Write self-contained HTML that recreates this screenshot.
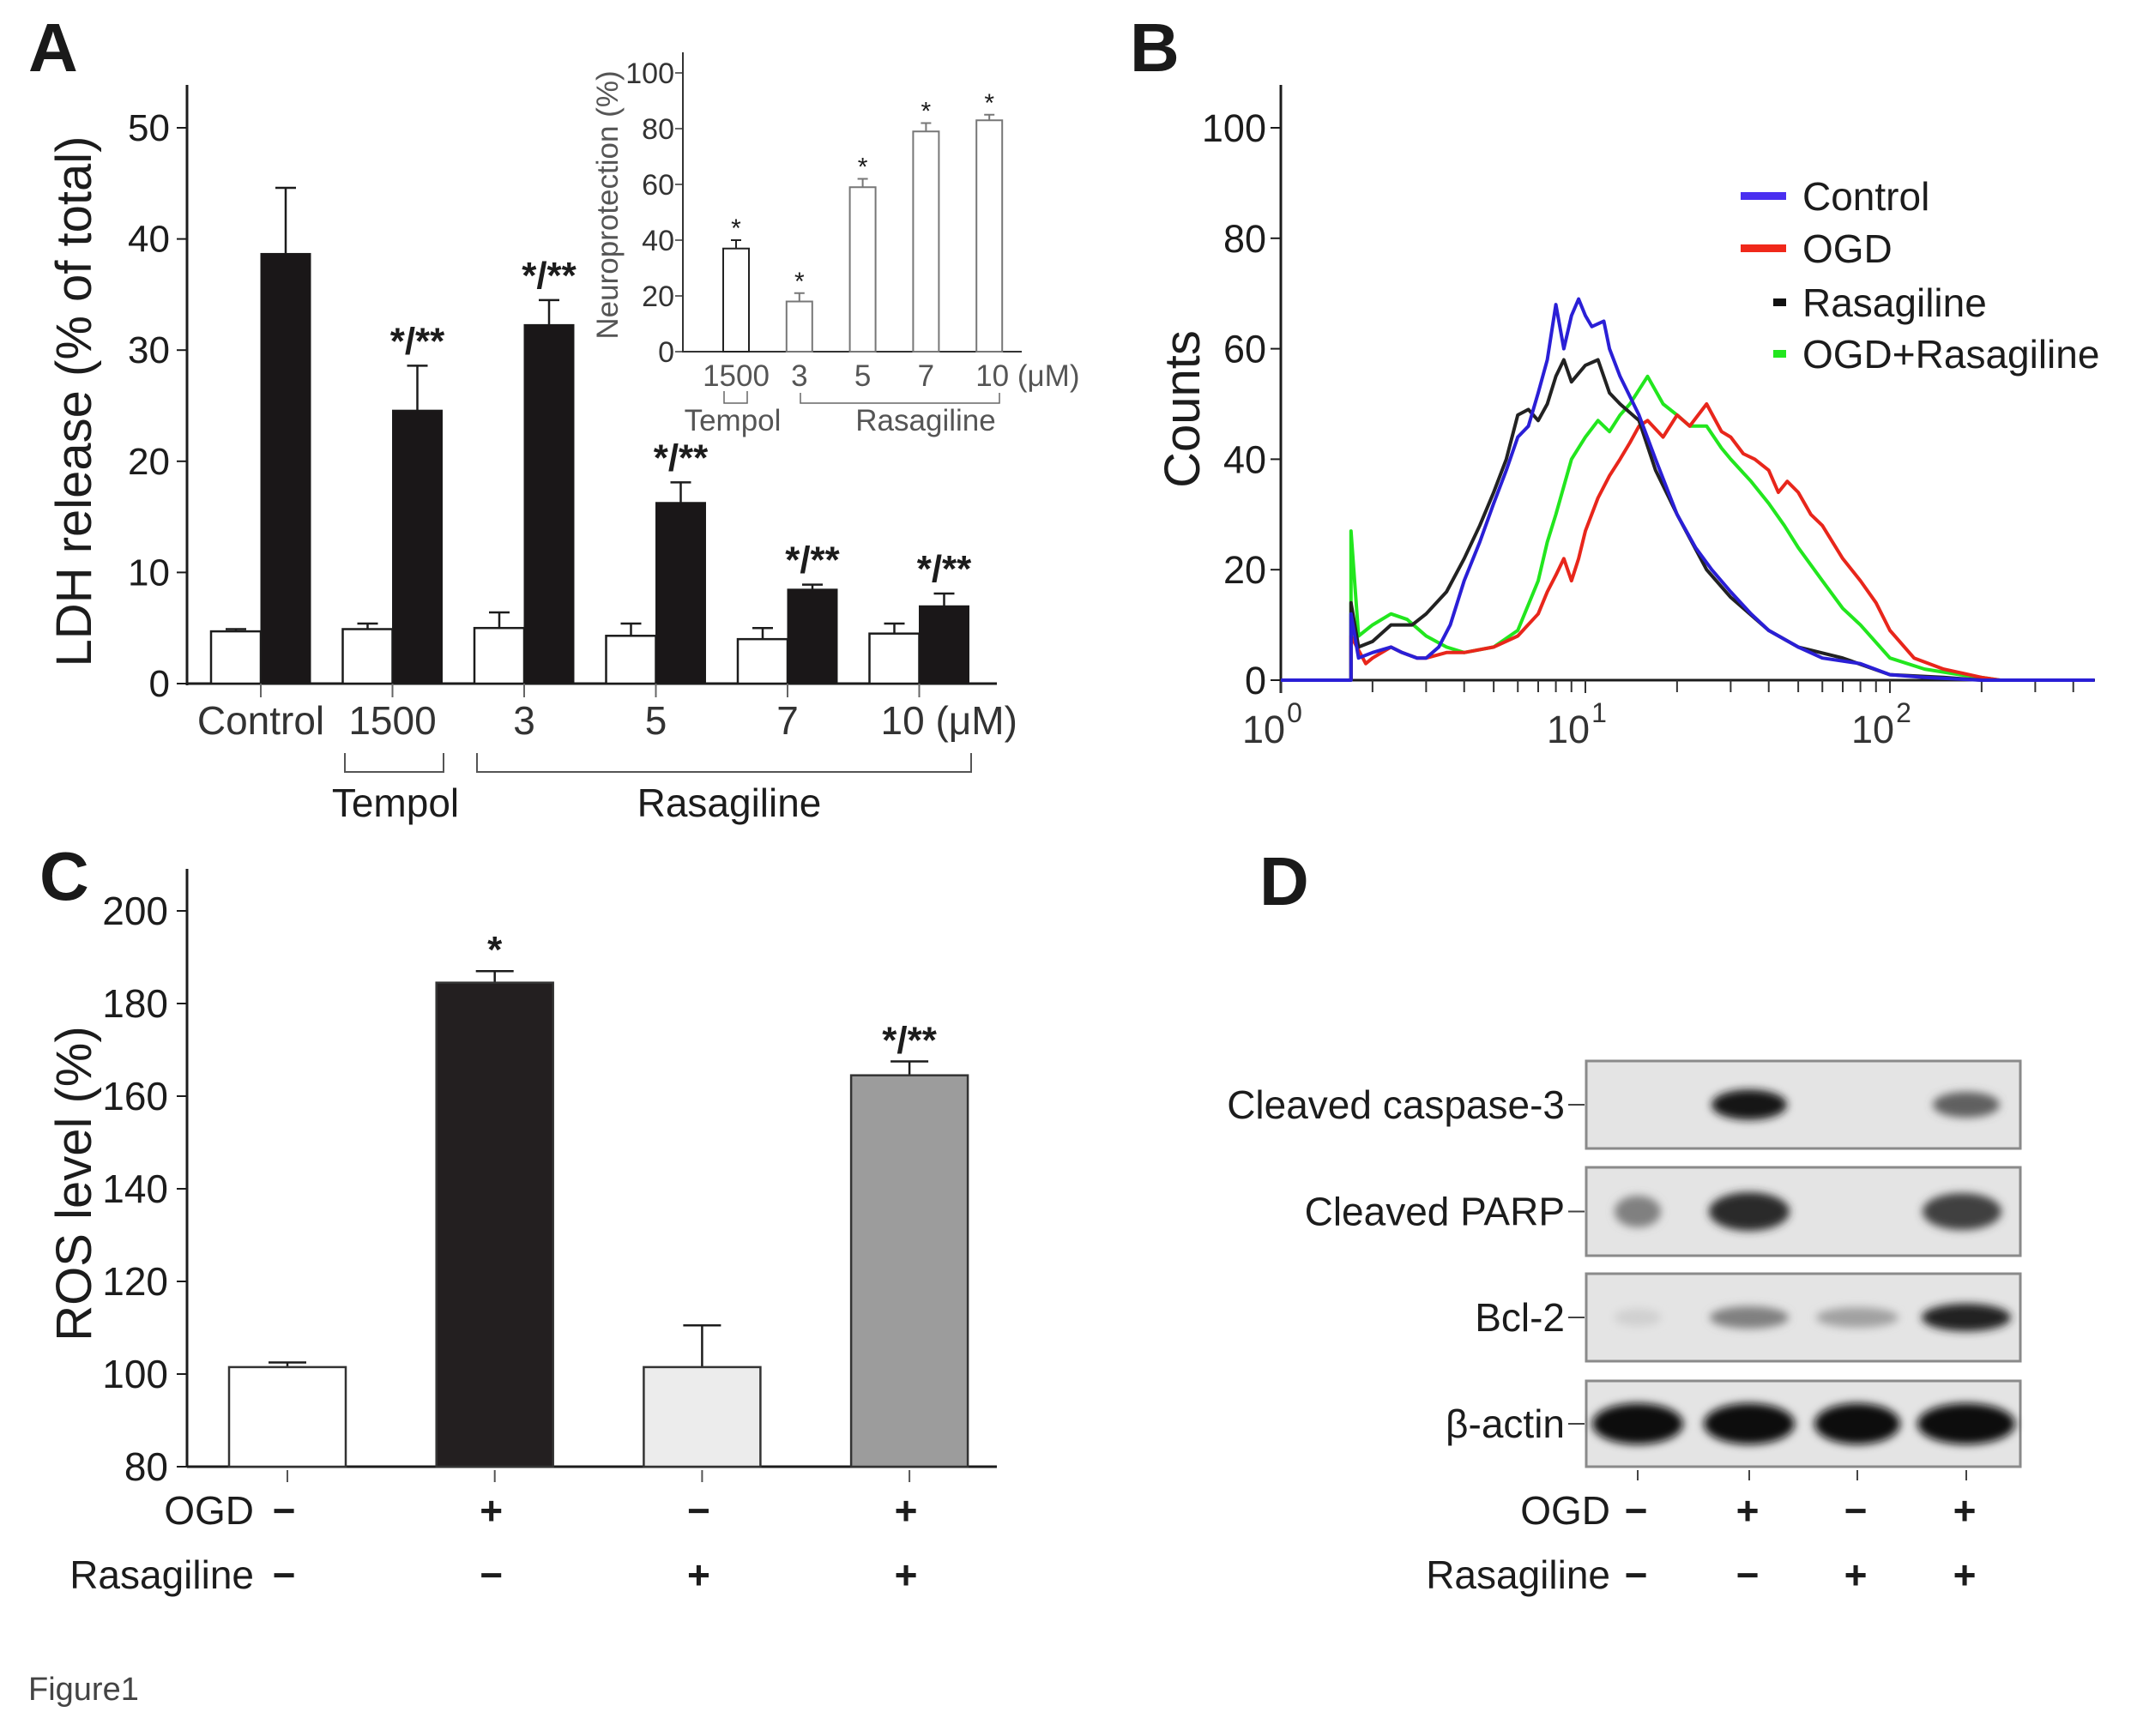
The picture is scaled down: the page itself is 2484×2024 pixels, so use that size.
<!DOCTYPE html>
<html><head><meta charset="utf-8"><title>Figure 1</title>
<style>
html,body{margin:0;padding:0;background:#fff;}
svg{display:block;font-family:"Liberation Sans",Arial,sans-serif;}
</style></head>
<body>
<svg id="fig" xmlns="http://www.w3.org/2000/svg" width="2484" height="2024" viewBox="0 0 2484 2024">
<defs>
<filter id="blur" x="-30%" y="-60%" width="160%" height="220%"><feGaussianBlur stdDeviation="5"/></filter>
</defs>
<text x="33" y="83" font-size="80" font-weight="bold" fill="#1a1a1a">A</text>
<text x="1317" y="83" font-size="80" font-weight="bold" fill="#1a1a1a">B</text>
<text x="46" y="1049" font-size="80" font-weight="bold" fill="#1a1a1a">C</text>
<text x="1468" y="1055" font-size="80" font-weight="bold" fill="#1a1a1a">D</text>
<text x="33" y="1982" font-size="38" fill="#444">Figure1</text>
<g id="gA"></g>
<g id="gI"></g>
<g id="gB"></g>
<g id="gC"></g>
<g id="gD"></g>
</svg>
<script>
// ---------- Panel A data ----------
const aCategories = ["Control","1500","3","5","7","10 (\u03bcM)"];
const aWhite = [4.7,4.9,5.0,4.3,4.0,4.5];
const aWhiteErr = [0.2,0.5,1.4,1.1,1.0,0.9];
const aBlack = [38.7,24.6,32.3,16.3,8.5,7.0];
const aBlackErr = [5.9,4.0,2.2,1.8,0.4,1.1];
const aStars = ["","*/**","*/**","*/**","*/**","*/**"];
const aTicks = [0,10,20,30,40,50];
// ---------- Inset data ----------
const iCategories = ["1500","3","5","7","10 (\u03bcM)"];
const iValues = [37,18,59,79,83];
const iErr = [3,3,3,3,2];
const iTicks = [0,20,40,60,80,100];
// ---------- Panel B data: [fluorescence, counts] ----------
const bControl = [[1,0],[1.7,0],[1.7,12],[1.8,4],[2,5],[2.3,6],[2.5,5],[2.8,4],[3,4],[3.3,6],[3.6,10],[4,18],[4.5,25],[5,32],[5.5,38],[6,44],[6.5,46],[7,52],[7.5,58],[8,68],[8.5,60],[9,66],[9.5,69],[10,66],[10.5,64],[11.5,65],[12,60],[13,55],[15,48],[17,40],[20,30],[23,24],[26,20],[30,16],[35,12],[40,9],[50,6],[60,4],[80,3],[100,1],[130,0.5],[200,0],[470,0]];
const bOGD = [[1.7,0],[1.7,8],[1.9,3],[2,4],[2.3,6],[2.5,5],[2.8,4],[3,4],[3.5,5],[4,5],[5,6],[6,8],[7,12],[7.5,16],[8,19],[8.5,22],[9,18],[9.5,22],[10,27],[11,33],[12,37],[13,40],[14,43],[15,46],[16,47],[18,44],[20,48],[22,46],[25,50],[28,45],[30,44],[33,41],[36,40],[40,38],[43,34],[46,36],[50,34],[55,30],[60,28],[70,22],[80,18],[90,14],[100,9],[120,4],[150,2],[200,0.5],[230,0]];
const bRasagiline = [[1.7,0],[1.7,14],[1.8,6],[2,7],[2.3,10],[2.7,10],[3,12],[3.5,16],[4,22],[4.5,28],[5,34],[5.5,40],[6,48],[6.5,49],[7,47],[7.5,50],[8,55],[8.5,58],[9,54],[10,57],[11,58],[12,52],[13,50],[15,47],[17,38],[20,30],[25,20],[30,15],[40,9],[50,6],[70,4],[100,1],[150,0.5],[200,0]];
const bOGDRas = [[1.7,0],[1.7,27],[1.8,8],[2,10],[2.3,12],[2.6,11],[3,8],[3.5,6],[4,5],[5,6],[6,9],[7,18],[7.5,25],[8,30],[9,40],[10,44],[11,47],[12,45],[13,48],[14,50],[16,55],[18,50],[20,48],[22,46],[25,46],[28,42],[30,40],[35,36],[40,32],[45,28],[50,24],[60,18],[70,13],[80,10],[100,4],[130,2],[170,1],[200,0.5],[230,0]];
const bTicks = [0,20,40,60,80,100];
// ---------- Panel C data ----------
const cValues = [101.5,184.5,101.5,164.5];
const cErr = [1,2.5,9,3];
const cStars = ["","*","","*/**"];
const cTicks = [80,100,120,140,160,180,200];
const cOGD = ["\u2212","+","\u2212","+"];
const cRas = ["\u2212","\u2212","+","+"];
// ---------- Panel D data ----------
const dRows = ["Cleaved caspase-3","Cleaved PARP","Bcl-2","\u03b2-actin"];
const dIntensity = [[0,0.95,0,0.6],[0.45,0.85,0,0.75],[0.08,0.45,0.3,0.9],[1,1,1,1]];
const dOGD = ["\u2212","+","\u2212","+"];
const dRas = ["\u2212","\u2212","+","+"];

const NS="http://www.w3.org/2000/svg";
function mk(parent,tag,attrs,text){const e=document.createElementNS(NS,tag);for(const k in attrs)e.setAttribute(k,attrs[k]);if(text!==undefined)e.textContent=text;parent.appendChild(e);return e;}
const INK="#1c1c1c";

// ===== Panel A =====
(function(){
const g=document.getElementById('gA');
const x0=218,x1=1162,y0=797,yTop=99;
const ys=v=>y0-v*12.96;
const gx=i=>304+i*153.5;
const bw=58;
mk(g,'line',{x1:x0,y1:yTop,x2:x0,y2:y0+2,stroke:INK,'stroke-width':3});
mk(g,'line',{x1:x0,y1:y0,x2:x1,y2:y0,stroke:INK,'stroke-width':3});
aTicks.forEach(t=>{
 mk(g,'line',{x1:x0-12,y1:ys(t),x2:x0,y2:ys(t),stroke:INK,'stroke-width':2});
 const e=mk(g,'text',{x:x0-20,y:ys(t)+15,'font-size':44,'text-anchor':'end',fill:INK},String(t));
 
 
});
aCategories.forEach((c,i)=>{
 const cx=gx(i);
 // error bars
 const wt=aWhite[i]+aWhiteErr[i], bt=aBlack[i]+aBlackErr[i];
 mk(g,'line',{x1:cx-bw/2,y1:ys(aWhite[i]),x2:cx-bw/2,y2:ys(wt),stroke:INK,'stroke-width':2.5});
 mk(g,'line',{x1:cx-bw/2-12,y1:ys(wt),x2:cx-bw/2+12,y2:ys(wt),stroke:INK,'stroke-width':2.5});
 mk(g,'line',{x1:cx+bw/2,y1:ys(aBlack[i]),x2:cx+bw/2,y2:ys(bt),stroke:INK,'stroke-width':2.5});
 mk(g,'line',{x1:cx+bw/2-12,y1:ys(bt),x2:cx+bw/2+12,y2:ys(bt),stroke:INK,'stroke-width':2.5});
 const w=mk(g,'rect',{x:cx-bw,y:ys(aWhite[i]),width:bw,height:y0-ys(aWhite[i]),fill:'#fff',stroke:INK,'stroke-width':2.5});
 
 
 const b=mk(g,'rect',{x:cx,y:ys(aBlack[i]),width:bw,height:y0-ys(aBlack[i]),fill:'#1a1718',stroke:INK,'stroke-width':1});
 
 
 mk(g,'line',{x1:cx,y1:y0,x2:cx,y2:y0+16,stroke:'#666','stroke-width':2});
 if(aStars[i]){const s=mk(g,'text',{x:cx+bw/2,y:ys(bt)-14,'font-size':44,'font-weight':'bold','text-anchor':'middle',fill:INK},aStars[i]);
  
  }
 const anchor = i===5?'start':'middle';
 const tx = i===5? cx-45 : cx;
 const l=mk(g,'text',{x:tx,y:856,'font-size':46,'text-anchor':anchor,fill:'#333'},c);
 
 
});
mk(g,'path',{d:'M402 878 V900 H517 V878',fill:'none',stroke:'#555','stroke-width':2});
mk(g,'path',{d:'M556 878 V900 H1132 V878',fill:'none',stroke:'#555','stroke-width':2});
let t=mk(g,'text',{x:461,y:952,'font-size':46,'text-anchor':'middle',fill:INK},'Tempol');

t=mk(g,'text',{x:850,y:952,'font-size':46,'text-anchor':'middle',fill:INK},'Rasagiline');

t=mk(g,'text',{x:0,y:0,'font-size':58,'text-anchor':'middle',fill:INK,transform:'translate(106,468) rotate(-90)'},'LDH release (% of total)');

})();

// ===== Inset =====
(function(){
const g=document.getElementById('gI');
const x0=796,x1=1191,y0=410,yTop=61;
const ys=v=>y0-v*3.25;
const cx=i=>858+i*73.8;
const bw=30;
mk(g,'line',{x1:x0,y1:yTop,x2:x0,y2:y0+1,stroke:'#333','stroke-width':2});
mk(g,'line',{x1:x0,y1:y0,x2:x1,y2:y0,stroke:'#333','stroke-width':2});
iTicks.forEach(tk=>{
 mk(g,'line',{x1:x0-9,y1:ys(tk),x2:x0,y2:ys(tk),stroke:'#333','stroke-width':1.5});
 const e=mk(g,'text',{x:x0-10,y:ys(tk)+12,'font-size':34,'text-anchor':'end',fill:'#333'},String(tk));
 
 
});
iCategories.forEach((c,i)=>{
 const x=cx(i), top=iValues[i]+iErr[i];
 const col = i===0?'#222':'#777';
 mk(g,'line',{x1:x,y1:ys(iValues[i]),x2:x,y2:ys(top),stroke:col,'stroke-width':2});
 mk(g,'line',{x1:x-6,y1:ys(top),x2:x+6,y2:ys(top),stroke:col,'stroke-width':2});
 const r=mk(g,'rect',{x:x-bw/2,y:ys(iValues[i]),width:bw,height:y0-ys(iValues[i]),fill:'#fff',stroke:col,'stroke-width':2});
 
 
 const s=mk(g,'text',{x:x,y:ys(top)-4,'font-size':30,'text-anchor':'middle',fill:INK},'*');
 
 
 const l=mk(g,'text',{x:i===4?x-16:x,y:450,'font-size':35,'text-anchor':i===4?'start':'middle',fill:'#555'},c);
 
 
});
mk(g,'path',{d:'M844 456 V470 H871 V456',fill:'none',stroke:'#666','stroke-width':1.5});
mk(g,'path',{d:'M933 458 V470 H1165 V458',fill:'none',stroke:'#666','stroke-width':1.5});
let t=mk(g,'text',{x:854,y:502,'font-size':35,'text-anchor':'middle',fill:'#555'},'Tempol');

t=mk(g,'text',{x:1079,y:502,'font-size':35,'text-anchor':'middle',fill:'#555'},'Rasagiline');

t=mk(g,'text',{x:0,y:0,'font-size':35,'text-anchor':'middle',fill:'#555',transform:'translate(720,239) rotate(-90)'},'Neuroprotection (%)');

})();

// ===== Panel B =====
(function(){
const g=document.getElementById('gB');
const x0=1493,x1=2442,y0=793,yTop=99;
const ys=v=>y0-v*6.44;
const xs=v=>x0+Math.log10(v)*355;
mk(g,'line',{x1:x0,y1:yTop,x2:x0,y2:y0+15,stroke:INK,'stroke-width':3});
mk(g,'line',{x1:x0,y1:y0,x2:x1,y2:y0,stroke:INK,'stroke-width':3});
bTicks.forEach(tk=>{
 mk(g,'line',{x1:x0-12,y1:ys(tk),x2:x0,y2:ys(tk),stroke:INK,'stroke-width':2});
 const e=mk(g,'text',{x:x0-17,y:ys(tk)+16,'font-size':45,'text-anchor':'end',fill:INK},String(tk));
 
 
});
for(let d=0;d<3;d++){for(let m=1;m<10;m++){const v=m*Math.pow(10,d);const x=xs(v);if(x>x1)break;
 mk(g,'line',{x1:x,y1:y0,x2:x,y2:y0+(m===1?15:14),stroke:'#333','stroke-width':2});}}
[0,1,2].forEach(d=>{
 const t=mk(g,'text',{x:xs(Math.pow(10,d))-20,y:866,'font-size':45,'text-anchor':'middle',fill:'#333'},'10');
 
 
 mk(g,'text',{x:xs(Math.pow(10,d))+16,y:842,'font-size':32,'text-anchor':'middle',fill:'#333'},String(d));
});
let t=mk(g,'text',{x:0,y:0,'font-size':58,'text-anchor':'middle',fill:INK,transform:'translate(1398,477) rotate(-90)'},'Counts');

const series=[[bOGDRas,'#22e61e','ogd-rasagiline'],[bOGD,'#e8261b','ogd'],[bRasagiline,'#222','rasagiline'],[bControl,'#2a1fd6','control']];
series.forEach(([data,col,name])=>{
 const pts=data.map(p=>xs(p[0]).toFixed(1)+','+ys(p[1]).toFixed(1)).join(' ');
 const pl=mk(g,'polyline',{points:pts,fill:'none',stroke:col,'stroke-width':4,'stroke-linejoin':'round'});
 
 
});
const leg=[['Control','#4a2ff0',2029,229],['OGD','#f0281a',2029,290],['Rasagiline','#111',2067,353],['OGD+Rasagiline','#22e61e',2067,413]];
leg.forEach(([lab,col,lx,ly])=>{
 const r=mk(g,'rect',{x:lx,y:ly-5,width:2082-lx,height:9,fill:col});
 
 
 const e=mk(g,'text',{x:2101,y:ly+16,'font-size':46,fill:INK},lab);
 
 
});
})();

// ===== Panel C =====
(function(){
const g=document.getElementById('gC');
const x0=218,x1=1162,y0=1710,yTop=1013;
const ys=v=>y0-(v-80)*5.4;
const cx=i=>335+i*241.7;
const bw=136;
const fills=['#fff','#231f20','#ececec','#9c9c9c'];
mk(g,'line',{x1:x0,y1:yTop,x2:x0,y2:y0+1,stroke:INK,'stroke-width':3});
mk(g,'line',{x1:x0,y1:y0,x2:x1,y2:y0,stroke:INK,'stroke-width':3});
cTicks.forEach(tk=>{
 mk(g,'line',{x1:x0-12,y1:ys(tk),x2:x0,y2:ys(tk),stroke:INK,'stroke-width':2});
 const e=mk(g,'text',{x:x0-22,y:ys(tk)+16,'font-size':46,'text-anchor':'end',fill:INK},String(tk));
 
 
});
cValues.forEach((v,i)=>{
 const x=cx(i), top=v+cErr[i];
 mk(g,'line',{x1:x,y1:ys(v),x2:x,y2:ys(top),stroke:INK,'stroke-width':2.5});
 mk(g,'line',{x1:x-22,y1:ys(top),x2:x+22,y2:ys(top),stroke:INK,'stroke-width':2.5});
 const r=mk(g,'rect',{x:x-bw/2,y:ys(v),width:bw,height:y0-ys(v),fill:fills[i],stroke:'#333','stroke-width':2.5});
 
 
 mk(g,'line',{x1:x,y1:y0+4,x2:x,y2:y0+18,stroke:'#555','stroke-width':2});
 if(cStars[i]){const s=mk(g,'text',{x:x,y:ys(top)-10,'font-size':44,'font-weight':'bold','text-anchor':'middle',fill:INK},cStars[i]);
  
  }
 let e=mk(g,'text',{x:x-4,y:1777,'font-size':46,'font-weight':'bold','text-anchor':'middle',fill:INK},cOGD[i]);
 
 e=mk(g,'text',{x:x-4,y:1852,'font-size':46,'font-weight':'bold','text-anchor':'middle',fill:INK},cRas[i]);
 
});
let t=mk(g,'text',{x:296,y:1777,'font-size':46,'text-anchor':'end',fill:INK},'OGD');

t=mk(g,'text',{x:296,y:1852,'font-size':46,'text-anchor':'end',fill:INK},'Rasagiline');

t=mk(g,'text',{x:0,y:0,'font-size':58,'text-anchor':'middle',fill:INK,transform:'translate(106,1380) rotate(-90)'},'ROS level (%)');

})();

// ===== Panel D =====
(function(){
const g=document.getElementById('gD');
const bx0=1849,bx1=2355;
const rowTop=[1237,1361,1485,1610], rowH=[102,103,102,100];
const laneX=[1909,2039,2165,2292];
const laneW=[[0,88,0,78],[54,94,0,92],[55,92,96,104],[106,106,100,114]];
const bandH=[30,40,28,40];
dRows.forEach((name,r)=>{
 const y=rowTop[r],h=rowH[r];
 const box=mk(g,'rect',{x:bx0,y:y,width:bx1-bx0,height:h,fill:'#e4e4e4',stroke:'#8a8a8a','stroke-width':3});
 
 
 const cy=y+h/2;
 dIntensity[r].forEach((v,l)=>{
  if(v<=0)return;
  const shade=Math.round(225-v*215);
  const e=mk(g,'ellipse',{cx:laneX[l]+(r===1&&l===3?-5:0),cy:cy,rx:laneW[r][l]/2,ry:bandH[r]/2*(0.7+0.5*v),fill:'rgb('+shade+','+shade+','+shade+')',filter:'url(#blur)'});
  
  
 });
 mk(g,'line',{x1:1828,y1:cy,x2:1847,y2:cy,stroke:'#444','stroke-width':2});
 const t=mk(g,'text',{x:1824,y:cy+16,'font-size':46,'text-anchor':'end',fill:INK},name);
 
 
});
laneX.forEach((x,i)=>{
 mk(g,'line',{x1:x,y1:1714,x2:x,y2:1726,stroke:'#444','stroke-width':2});
 let e=mk(g,'text',{x:x-2,y:1777,'font-size':46,'font-weight':'bold','text-anchor':'middle',fill:INK},dOGD[i]);
 
 e=mk(g,'text',{x:x-2,y:1852,'font-size':46,'font-weight':'bold','text-anchor':'middle',fill:INK},dRas[i]);
 
});
let t=mk(g,'text',{x:1877,y:1777,'font-size':46,'text-anchor':'end',fill:INK},'OGD');

t=mk(g,'text',{x:1877,y:1852,'font-size':46,'text-anchor':'end',fill:INK},'Rasagiline');

})();
</script>
</body></html>
